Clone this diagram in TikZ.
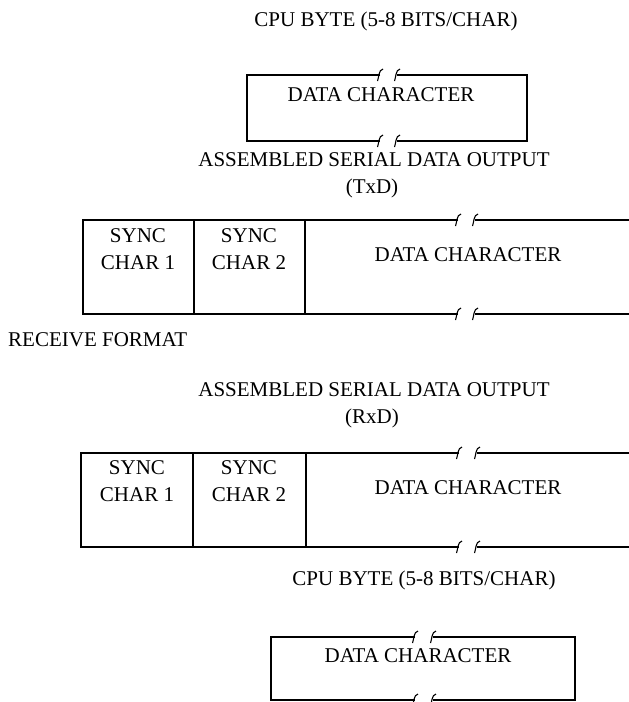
\documentclass[tikz,border=0pt]{standalone}
\usepackage{fontspec}
\setmainfont{Liberation Serif}
\tikzset{
  frame/.style={line width=1.8pt},
  lbl/.style={inner sep=0pt, anchor=base, font=\fontsize{21}{27}\selectfont},
  cell/.style={lbl, anchor=north, align=center},
  brkmark/.pic={\draw[line width=1.1pt] (-2.5,6) .. controls (-1,2) and (-1.5,-5) .. (3,-6);}
}
\begin{document}
\begin{tikzpicture}[x=1pt,y=-1pt]
\useasboundingbox (0,0) rectangle (629,702);
% cpu byte, transmit side
\node[lbl] (cpuT) at (386,26) {CPU BYTE (5-8 BITS/CHAR)};
\node[lbl] (dataT) at (381,101) {DATA CHARACTER};
\draw[frame] (380,75) -- (247,75) -- (247,141) -- (380,141);
\draw[frame] (397,75) -- (527,75) -- (527,141) -- (397,141);
\foreach \u in {380,397}{
    \pic at (\u,75) {brkmark};
    \pic at (\u,141) {brkmark};
}
% serial output TxD
\node[lbl] (asmT) at (374,166) {ASSEMBLED SERIAL DATA OUTPUT};
\node[lbl] (txd) at (372,193) {(TxD)};
\draw[frame] (458,220) -- (83,220) -- (83,314) -- (458,314);
\draw[frame] (194,220) -- (194,314) (305,220) -- (305,314);
\draw[frame] (475,220) -- (632,220) (475,314) -- (632,314);
\foreach \u in {458,475}{
    \pic at (\u,220) {brkmark};
    \pic at (\u,314) {brkmark};
}
\node[cell] (syncTa) at (138,228) {SYNC\\CHAR 1};
\node[cell] (syncTb) at (249,228) {SYNC\\CHAR 2};
\node[lbl] (dataTx) at (468,261) {DATA CHARACTER};
% receive side
\node[lbl, anchor=base west] (recv) at (8,346) {RECEIVE FORMAT};
\node[lbl] (asmR) at (374,396) {ASSEMBLED SERIAL DATA OUTPUT};
\node[lbl] (rxd) at (372,423) {(RxD)};
\draw[frame] (459,453) -- (81,453) -- (81,547) -- (459,547);
\draw[frame] (193,453) -- (193,547) (306,453) -- (306,547);
\draw[frame] (477,453) -- (632,453) (477,547) -- (632,547);
\foreach \u in {459,477}{
    \pic at (\u,453) {brkmark};
    \pic at (\u,547) {brkmark};
}
\node[cell] (syncRa) at (137,460) {SYNC\\CHAR 1};
\node[cell] (syncRb) at (249,460) {SYNC\\CHAR 2};
\node[lbl] (dataRx) at (468,494) {DATA CHARACTER};
% cpu byte, receive side
\node[lbl] (cpuR) at (424,585) {CPU BYTE (5-8 BITS/CHAR)};
\node[lbl] (dataR) at (418,662) {DATA CHARACTER};
\draw[frame] (415,637) -- (271,637) -- (271,700) -- (415,700);
\draw[frame] (433,637) -- (575,637) -- (575,700) -- (433,700);
\foreach \u in {415,433}{
    \pic at (\u,637) {brkmark};
    \pic at (\u,700) {brkmark};
}
\end{tikzpicture}
\end{document}
